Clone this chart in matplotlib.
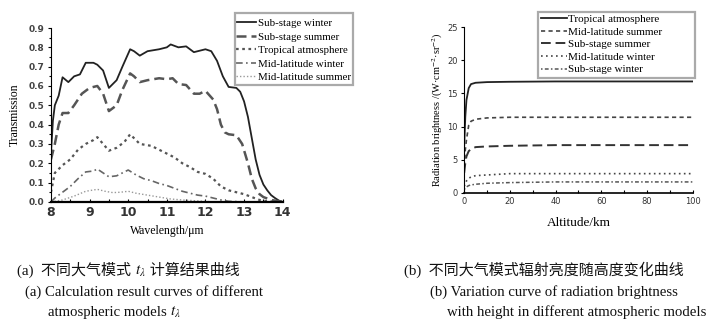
import matplotlib
matplotlib.use("Agg")
import matplotlib.pyplot as plt
from matplotlib.ticker import MultipleLocator, FormatStrFormatter
from matplotlib.patches import Rectangle

plt.rcParams['mathtext.fontset'] = 'stix'

# ---------------- Panel (a) data ----------------
wl_ssw = [8.0, 8.05, 8.1, 8.2, 8.3, 8.45, 8.6, 8.75, 8.9, 9.1, 9.2, 9.35, 9.5, 9.7, 9.85, 10.05,
          10.15, 10.3, 10.5, 10.8, 11.0, 11.1, 11.3, 11.5, 11.7, 12.0, 12.15, 12.3, 12.45, 12.6,
          12.8, 12.9, 13.0, 13.1, 13.2, 13.3, 13.4, 13.5, 13.6, 13.7, 13.8, 13.9, 14.0]
t_ssw = [0.25, 0.42, 0.50, 0.55, 0.645, 0.62, 0.65, 0.66, 0.72, 0.72, 0.71, 0.68, 0.59, 0.63, 0.70, 0.79,
         0.78, 0.757, 0.78, 0.79, 0.80, 0.815, 0.80, 0.805, 0.775, 0.79, 0.78, 0.73, 0.65, 0.595,
         0.59, 0.57, 0.52, 0.44, 0.33, 0.22, 0.14, 0.09, 0.06, 0.035, 0.02, 0.007, 0.0]

wl_sss = [8.0, 8.1, 8.2, 8.3, 8.45, 8.6, 8.8, 9.0, 9.2, 9.35, 9.5, 9.7, 9.85, 10.05, 10.15, 10.3,
          10.5, 10.8, 11.0, 11.15, 11.3, 11.5, 11.7, 11.85, 12.0, 12.2, 12.3, 12.4, 12.5, 12.6, 12.8,
          12.95, 13.1, 13.2, 13.3, 13.4, 13.5, 13.7, 14.0]
t_sss = [0.22, 0.30, 0.40, 0.46, 0.46, 0.50, 0.56, 0.59, 0.60, 0.56, 0.47, 0.50, 0.58, 0.665, 0.65, 0.62,
         0.63, 0.64, 0.635, 0.64, 0.61, 0.605, 0.56, 0.56, 0.575, 0.53, 0.48, 0.40, 0.36, 0.35, 0.345,
         0.30, 0.20, 0.12, 0.07, 0.04, 0.025, 0.01, 0.0]

wl_trop = [8.0, 8.1, 8.3, 8.5, 8.7, 8.9, 9.1, 9.2, 9.35, 9.5, 9.7, 9.9, 10.05, 10.2, 10.3, 10.6,
           10.8, 11.0, 11.2, 11.4, 11.6, 11.8, 12.0, 12.2, 12.4, 12.6, 12.8, 13.0, 13.2, 13.4, 13.6, 14.0]
t_trop = [0.05, 0.15, 0.19, 0.22, 0.27, 0.30, 0.32, 0.335, 0.30, 0.265, 0.28, 0.31, 0.35, 0.32, 0.30, 0.29,
          0.27, 0.25, 0.23, 0.20, 0.18, 0.155, 0.145, 0.12, 0.08, 0.06, 0.05, 0.04, 0.025, 0.01, 0.003, 0.0]

wl_mlw = [8.0, 8.1, 8.3, 8.5, 8.7, 8.9, 9.1, 9.2, 9.35, 9.5, 9.7, 9.85, 10.0, 10.2, 10.4, 10.6,
          10.8, 11.0, 11.2, 11.4, 11.6, 11.8, 12.0, 12.2, 12.4, 12.6, 13.0]
t_mlw = [0.0, 0.02, 0.05, 0.08, 0.12, 0.155, 0.16, 0.17, 0.15, 0.13, 0.135, 0.15, 0.165, 0.14, 0.12, 0.11,
         0.095, 0.085, 0.07, 0.055, 0.045, 0.035, 0.03, 0.02, 0.01, 0.003, 0.0]

wl_mls = [8.0, 8.3, 8.6, 8.9, 9.2, 9.4, 9.6, 9.8, 10.0, 10.2, 10.5, 10.8, 11.1, 11.4, 11.8, 12.2, 12.6]
t_mls = [0.0, 0.01, 0.03, 0.055, 0.065, 0.055, 0.048, 0.05, 0.055, 0.045, 0.035, 0.025, 0.015, 0.01, 0.005, 0.0, 0.0]

# ---------------- Panel (b) data ----------------
alt = [0, 0.5, 1, 2, 3, 5, 10, 20, 40, 60, 80, 100]
rb_trop = [7.0, 11.5, 14.0, 15.8, 16.4, 16.6, 16.7, 16.75, 16.8, 16.8, 16.8, 16.8]
rb_mls = [4.0, 6.5, 8.0, 10.2, 10.8, 11.1, 11.3, 11.4, 11.4, 11.4, 11.4, 11.4]
rb_sss = [3.0, 4.5, 5.5, 6.3, 6.6, 6.9, 7.0, 7.1, 7.2, 7.2, 7.2, 7.2]
rb_mlw = [1.0, 1.4, 1.8, 2.2, 2.4, 2.6, 2.7, 2.9, 2.9, 2.9, 2.9, 2.9]
rb_ssw = [0.5, 0.7, 0.9, 1.1, 1.2, 1.3, 1.45, 1.55, 1.65, 1.65, 1.65, 1.65]

W, H = 723.0, 322.0
fig = plt.figure(figsize=(W / 100, H / 100), dpi=100)

serif = ['Liberation Serif', 'Noto Sans CJK SC', 'DejaVu Sans']

def fx(px):
    return px / W

def fy(py):
    return 1 - py / H

def frame_box(x0, y0, x1, y1):
    fig.patches.append(Rectangle((fx(x0), fy(y1)), fx(x1) - fx(x0), fy(y0) - fy(y1),
                                 transform=fig.transFigure, fill=False,
                                 edgecolor='#aaaaaa', lw=1.6, zorder=5))

# ---------- Left axes ----------
ax1 = fig.add_axes([0.0705, 0.373, 0.3205, 0.54])
ax1.plot(wl_ssw, t_ssw, color='#222222', lw=1.3, ls='-', label='Sub-stage winter')
ax1.plot(wl_sss, t_sss, color='#555555', lw=1.8, ls=(0, (4, 2)), label='Sub-stage summer')
ax1.plot(wl_trop, t_trop, color='#555555', lw=1.6, ls=(0, (1.2, 1.6)), label='Tropical atmosphere')
ax1.plot(wl_mlw, t_mlw, color='#666666', lw=1.2, ls=(0, (4, 2, 1, 2)), label='Mid-latitude winter')
ax1.plot(wl_mls, t_mls, color='#999999', lw=1.0, ls=(0, (1, 1.5)), label='Mid-latitude summer')
ax1.set_xlim(8, 14)
ax1.set_ylim(0, 0.9)
ax1.xaxis.set_major_locator(MultipleLocator(1))
ax1.xaxis.set_minor_locator(MultipleLocator(0.5))
ax1.yaxis.set_major_locator(MultipleLocator(0.1))
ax1.yaxis.set_minor_locator(MultipleLocator(0.05))
ax1.yaxis.set_major_formatter(FormatStrFormatter('%.1f'))
for s in ['top', 'right']:
    ax1.spines[s].set_visible(False)
ax1.spines['bottom'].set_linewidth(1.6)
ax1.spines['left'].set_linewidth(0.8)
ax1.tick_params(axis='y', which='both', direction='out', labelsize=6.5, length=2.5, width=0.8, pad=2,
                labelcolor='#444444')
ax1.tick_params(axis='y', which='minor', length=1.5)
ax1.tick_params(axis='x', which='both', direction='in', length=2.5, width=0.8, labelsize=9, pad=3,
                labelcolor='#333333')
for lab in ax1.get_xticklabels() + ax1.get_yticklabels():
    lab.set_fontweight('bold')
ax1.set_xlabel('Wavelength/μm', family=serif, fontsize=8.5, labelpad=4)
ax1.set_ylabel('Transmission', family=serif, fontsize=8.5, labelpad=6)
leg1 = ax1.legend(loc='upper left', bbox_to_anchor=(fx(236), fy(18.5)), bbox_transform=fig.transFigure,
                  prop={'family': serif, 'size': 7.8}, frameon=False, handlelength=1.85,
                  handletextpad=0.15, labelspacing=0.36, borderpad=0, borderaxespad=0)
frame_box(235, 13, 353, 85)

# ---------- Right axes ----------
ax2 = fig.add_axes([0.642, 0.401, 0.316, 0.515])
ax2.plot(alt, rb_trop, color='#222222', lw=1.3, ls='-', label='Tropical atmosphere')
ax2.plot(alt, rb_mls, color='#444444', lw=1.2, ls=(0, (2.5, 2)), label='Mid-latitude summer')
ax2.plot(alt, rb_sss, color='#333333', lw=1.4, ls=(0, (5, 2.5)), label='Sub-stage summer')
ax2.plot(alt, rb_mlw, color='#444444', lw=1.2, ls=(0, (1, 2)), label='Mid-latitude winter')
ax2.plot(alt, rb_ssw, color='#555555', lw=1.1, ls=(0, (1, 1.5, 2.5, 1.5)), label='Sub-stage winter')
ax2.set_xlim(0, 100)
ax2.set_ylim(0, 25)
ax2.xaxis.set_major_locator(MultipleLocator(20))
ax2.xaxis.set_minor_locator(MultipleLocator(10))
ax2.yaxis.set_major_locator(MultipleLocator(5))
for s in ['top', 'right']:
    ax2.spines[s].set_visible(False)
ax2.spines['bottom'].set_linewidth(1.2)
ax2.spines['left'].set_linewidth(0.8)
ax2.tick_params(axis='y', which='both', direction='out', labelsize=6, length=2.5, width=0.8, pad=2,
                labelcolor='#333333')
ax2.tick_params(axis='x', which='both', direction='in', labelsize=6, length=2.5, width=0.8, pad=3,
                labelcolor='#333333')
ax2.set_xlabel('Altitude/km', family=serif, fontsize=9.5, labelpad=8)
ax2.set_ylabel('Radiation brightness /(W·cm$^{-2}$·sr$^{-2}$)', family=serif, fontsize=7.5, labelpad=2)
leg2 = ax2.legend(loc='upper left', bbox_to_anchor=(fx(541), fy(14.5)), bbox_transform=fig.transFigure,
                  prop={'family': serif, 'size': 8}, frameon=False, handlelength=2.3,
                  handletextpad=0.15, labelspacing=0.25, borderpad=0, borderaxespad=0)
frame_box(538, 12, 695, 78)

# ---------- Captions ----------
renderer = fig.canvas.get_renderer()

def cap_pieces(x, y, pieces):
    cur = x
    for s, size in pieces:
        t = fig.text(fx(cur), fy(y), s, family=serif, fontsize=size, va='baseline', ha='left',
                     color='#111111')
        bb = t.get_window_extent(renderer=renderer)
        cur += bb.width

cap_pieces(17, 275, [('(a)  不同大气模式 ', 10.8), ('$t_\\lambda$', 11), (' 计算结果曲线', 10.8)])
cap_pieces(25, 296, [('(a) Calculation result curves of different', 10.6)])
cap_pieces(48, 316, [('atmospheric models ', 10.6), ('$t_\\lambda$', 11)])
cap_pieces(404, 275, [('(b)  不同大气模式辐射亮度随高度变化曲线', 10.8)])
cap_pieces(430, 296, [('(b) Variation curve of radiation brightness', 10.6)])
cap_pieces(447, 316, [('with height in different atmospheric models', 10.6)])

fig.savefig('out.png', dpi=100)
